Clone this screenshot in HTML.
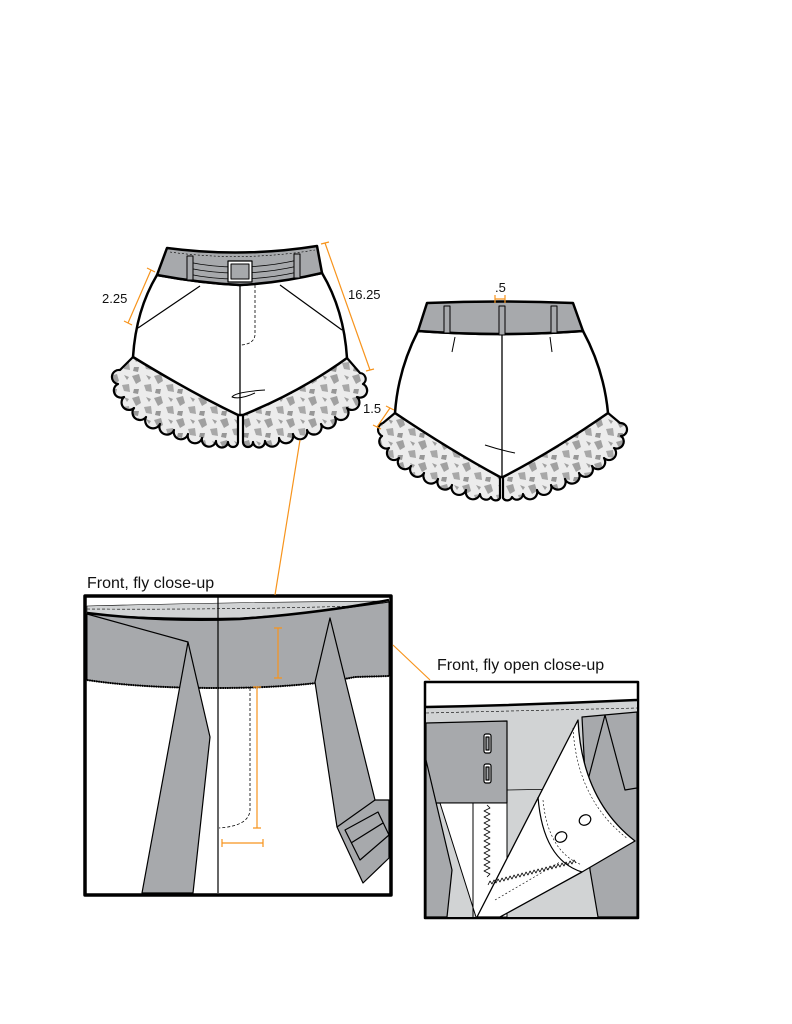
<!DOCTYPE html>
<html><head><meta charset="utf-8"><style>
html,body{margin:0;padding:0;background:#fff;}
svg{display:block;}
text{font-family:"Liberation Sans",sans-serif;fill:#111;}
</style></head><body>
<svg width="792" height="1024" viewBox="0 0 792 1024" xmlns="http://www.w3.org/2000/svg">
<defs>
<pattern id="lace" width="22" height="22" patternUnits="userSpaceOnUse">
<rect width="22" height="22" fill="#ececec"/>
<path d="M0 2 L7 0 L9 7 L4 10 Z" fill="#a0a0a0"/>
<path d="M12 11 L19 10 L20 18 L14 17 Z" fill="#a8a8a8"/>
<path d="M2 15 L7 15 L6 20 L1 19 Z" fill="#979797"/>
<path d="M14 1 L19 3 L17 6 Z" fill="#a0a0a0"/>
</pattern>
</defs>
<g fill="none" stroke="#000" stroke-linejoin="round">
<!-- FRONT SHORTS ruffles -->
<path d="M133,357 L120,370 A7,7 0 0 0 118,384 A7,7 0 0 0 124,397 A7,7 0 0 0 134,408 A7,7 0 0 0 146,417 A7,7 0 0 0 160,424 A7,7 0 0 0 174,430 A7,7 0 0 0 188,434 A7,7 0 0 0 202,438 A7,7 0 0 0 216,441 A6,6 0 0 0 228,442 A5,5 0 0 0 238,442 L238,415 Z" fill="url(#lace)" stroke-width="2.2"/>
<path d="M243,415 L243,442 A5,5 0 0 0 253,442 A6,6 0 0 0 265,441 A7,7 0 0 0 279,438 A7,7 0 0 0 293,434 A7,7 0 0 0 307,430 A7,7 0 0 0 321,424 A7,7 0 0 0 335,417 A7,7 0 0 0 347,408 A7,7 0 0 0 357,397 A7,7 0 0 0 363,384 A6,6 0 0 0 360,373 L347,358 Z" fill="url(#lace)" stroke-width="2.2"/>
<!-- body -->
<path d="M157,275 Q136,310 133,357 Q190,392 238,415 L243,415 Q300,392 347,358 Q344,310 322,273 Q280,282 240,285 Q200,283 157,275 Z" fill="#fff" stroke-width="2.5"/>
<!-- waistband -->
<path d="M167,248 Q242,258 317,246 L322,273 Q280,283 240,285 Q200,283 157,275 Z" fill="#a7a9ac" stroke-width="2.5"/>
<path d="M188,262 Q240,273 298,260 M188,268 Q240,279 298,266 M188,274 Q240,285 298,272" stroke-width="0.8"/>
<path d="M170,252 Q242,262 315,250" stroke-width="0.6" stroke-dasharray="2,2"/>
<rect x="187" y="256" width="6" height="24" fill="#a7a9ac" stroke-width="1"/>
<rect x="294" y="254" width="6" height="24" fill="#a7a9ac" stroke-width="1"/>
<rect x="228" y="261" width="24" height="21" fill="#fff" stroke-width="1.2"/>
<rect x="231" y="264" width="18" height="15" fill="#a7a9ac" stroke-width="1"/>
<path d="M240,285 L240,415" stroke-width="1.3"/>
<path d="M255,285 L255,335 Q254,344 241,345" stroke-width="0.8" stroke-dasharray="3,2"/>
<path d="M200,286 L138,328 M280,285 L342,330" stroke-width="1.2"/>
<path d="M265,390 Q235,392 232,397 Q240,400 255,393" stroke-width="1"/>
<!-- BACK SHORTS -->
<path d="M395,413 L383,423 A7,7 0 0 0 382,436 A7,7 0 0 0 389,448 A7,7 0 0 0 399,458 A7,7 0 0 0 411,466 A7,7 0 0 0 424,473 A7,7 0 0 0 438,479 A7,7 0 0 0 452,485 A7,7 0 0 0 466,490 A7,7 0 0 0 480,494 A6,6 0 0 0 491,497 A5,5 0 0 0 500,498 L500,477 Z" fill="url(#lace)" stroke-width="2.2"/>
<path d="M503,477 L503,498 A5,5 0 0 0 512,497 A6,6 0 0 0 523,494 A7,7 0 0 0 537,490 A7,7 0 0 0 551,485 A7,7 0 0 0 565,479 A7,7 0 0 0 579,473 A7,7 0 0 0 592,466 A7,7 0 0 0 604,458 A7,7 0 0 0 614,448 A7,7 0 0 0 621,436 A6,6 0 0 0 620,423 L608,413 Z" fill="url(#lace)" stroke-width="2.2"/>
<path d="M418,331 Q398,370 395,413 Q450,450 500,477 L503,477 Q555,450 608,413 Q604,370 583,331 Q500,337 418,331 Z" fill="#fff" stroke-width="2.5"/>
<path d="M427,303 Q500,300 573,303 L583,331 Q500,337 418,331 Z" fill="#a7a9ac" stroke-width="2.5"/>
<rect x="444" y="306" width="6" height="27" fill="#a7a9ac" stroke-width="1"/>
<rect x="499" y="306" width="6" height="29" fill="#a7a9ac" stroke-width="1"/>
<rect x="551" y="306" width="6" height="27" fill="#a7a9ac" stroke-width="1"/>
<path d="M502,335 L502,477" stroke-width="1.3"/>
<path d="M455,337 L452,352 M550,337 L552,352" stroke-width="1"/>
<path d="M485,445 Q500,450 515,453" stroke-width="1"/>
<!-- CLOSE-UP 1 -->
<rect x="85" y="596" width="306" height="299" fill="#fff" stroke-width="3.5"/>
<path d="M87,606 Q240,602 389,601 L389,605 Q310,614 240,618 Q160,619 87,614 Z" fill="#d1d3d4" stroke-width="0.6"/>
<path d="M87,609 Q240,610 389,605" stroke-width="0.6" stroke-dasharray="3,2"/>
<path d="M87,614 Q160,620 240,618 Q310,614 389,602 L389,676 L355,677 Q300,688 218,688 Q140,688 87,680 Z" fill="#a7a9ac" stroke-width="1"/>
<path d="M87,613 Q160,622 240,619 Q320,613 389,600" stroke-width="2.5"/>
<path d="M87,680 Q140,688 218,688 Q300,688 355,677 L389,676" stroke-width="2" stroke-dasharray="1.5,0.8"/>
<path d="M87,614 L188,642 L210,737 L193,893 L142,893 L188,642" fill="#a7a9ac" stroke-width="1.2"/>
<path d="M330,618 L315,682 L337,827 L363,883 L389,858 L389,800 L375,800 Z" fill="#a7a9ac" stroke-width="1.2"/>
<path d="M337,827 L375,800" stroke-width="1.2"/>
<path d="M345,830 L378,812 L389,835 L360,860 Z M351,843 L383,823" stroke-width="1.2"/>
<path d="M218,596 L218,893" stroke-width="1.2"/>
<path d="M250,688 L250,810 Q249,826 219,828" stroke-width="0.8" stroke-dasharray="3,2"/>
<!-- CLOSE-UP 2 -->
<rect x="425" y="682" width="213" height="236" fill="#fff" stroke-width="2.5"/>
<path d="M426,707 Q530,704 637,700 L637,917 L426,917 Z" fill="#d1d3d4" stroke="none"/>
<path d="M426,707 Q530,705 637,700" stroke-width="2.5"/>
<path d="M426,713 L637,708" stroke-width="0.6" stroke-dasharray="3,2"/>
<path d="M507,790 L560,789" stroke-width="0.8"/>
<path d="M426,723 L507,721 L507,803 L426,803 Z" fill="#a7a9ac" stroke-width="1.2"/>
<path d="M426,760 L452,870 L447,917 L426,917 Z" fill="#a7a9ac" stroke-width="1.2"/>
<path d="M440,803 L507,803 L507,917 L476,917 L440,803" fill="#fff" stroke-width="1"/>
<path d="M473,803 L473,917" stroke-width="1"/>
<path d="M487,805 l3,3 l-6,3 l6,3 l-6,3 l6,3 l-6,3 l6,3 l-6,3 l6,3 l-6,3 l6,3 l-6,3 l6,3 l-6,3 l6,3 l-6,3 l6,3 l-6,3 l6,3 l-6,3 l6,3 l-6,3 l6,3 l-3,3" stroke-width="0.8"/>
<g stroke-width="1.2" fill="#fff">
<rect x="484" y="734" width="7" height="19" rx="2"/><rect x="486" y="737" width="3" height="13" fill="#a7a9ac"/>
<rect x="484" y="764" width="7" height="19" rx="2"/><rect x="486" y="767" width="3" height="13" fill="#a7a9ac"/>
</g>
<!-- right gray -->
<path d="M582,717 L637,712 L637,917 L598,917 L590,870 L582,717 Z" fill="#a7a9ac" stroke-width="1.2"/>
<path d="M605,715 L588,780 M605,715 L625,790 L637,788" stroke-width="1.2"/>
<!-- flap -->
<path d="M578,720 Q582,800 635,841 L582,872 L500,917 L477,917 Z" fill="#fff" stroke-width="1.3"/>
<path d="M538,797 Q543,860 582,872" stroke-width="1.2"/>
<path d="M573,728 Q577,800 628,839" stroke-width="0.6" stroke-dasharray="2,2"/>
<path d="M543,800 Q548,852 582,865" stroke-width="0.6" stroke-dasharray="2,2"/>
<path d="M488,885 l2,-4 l2,3 l2,-4 l2,3 l2,-4 l2,3 l2,-4 l2,3 l2,-4 l2,3 l2,-4 l2,3 l2,-4 l2,3 l2,-4 l2,3 l2,-4 l2,3 l2,-4 l2,3 l2,-4 l2,3 l2,-4 l2,3 l2,-4 l2,3 l2,-4 l2,3 l2,-4 l2,3 l2,-4 l2,3 l2,-4 l2,3 l2,-4 l2,3 l2,-4 l2,3 l2,-4 l2,3 l2,-4 l2,3 l2,-4 l2,3" stroke-width="0.8"/>
<path d="M495,900 L560,862" stroke-width="0.6" stroke-dasharray="2,2"/>
<g stroke-width="1.2" fill="#fff"><ellipse cx="561" cy="837" rx="6" ry="5" transform="rotate(-30 561 837)"/><ellipse cx="585" cy="820" rx="6" ry="5" transform="rotate(-30 585 820)"/></g>
</g>
<!-- orange dimensions -->
<g stroke="#f7941d" stroke-width="1.2" fill="none">
<path d="M151,270 L128,323 M147,268 L155,272 M124,321 L132,325"/>
<path d="M325,243 L370,370 M321,244 L329,242 M366,371 L374,369"/>
<path d="M495,299 L505,299 M495,295 L495,303 M505,295 L505,303"/>
<path d="M390,408 L377,427 M386,406 L394,410 M373,425 L381,429"/>
<path d="M300,440 L275,595 M393,645 L430,680"/>
<path d="M278,628 L278,678 M274,628 L282,628 M274,678 L282,678"/>
<path d="M257,687 L257,828 M253,687 L261,687 M253,828 L261,828"/>
<path d="M222,843 L263,843 M222,839 L222,847 M263,839 L263,847"/>
</g>
<text x="102" y="303" font-size="13">2.25</text>
<text x="348" y="299" font-size="13">16.25</text>
<text x="495" y="292" font-size="13">.5</text>
<text x="363" y="413" font-size="13">1.5</text>
<text x="87" y="588" font-size="16">Front, fly close-up</text>
<text x="437" y="670" font-size="16">Front, fly open close-up</text>
</svg>
</body></html>
